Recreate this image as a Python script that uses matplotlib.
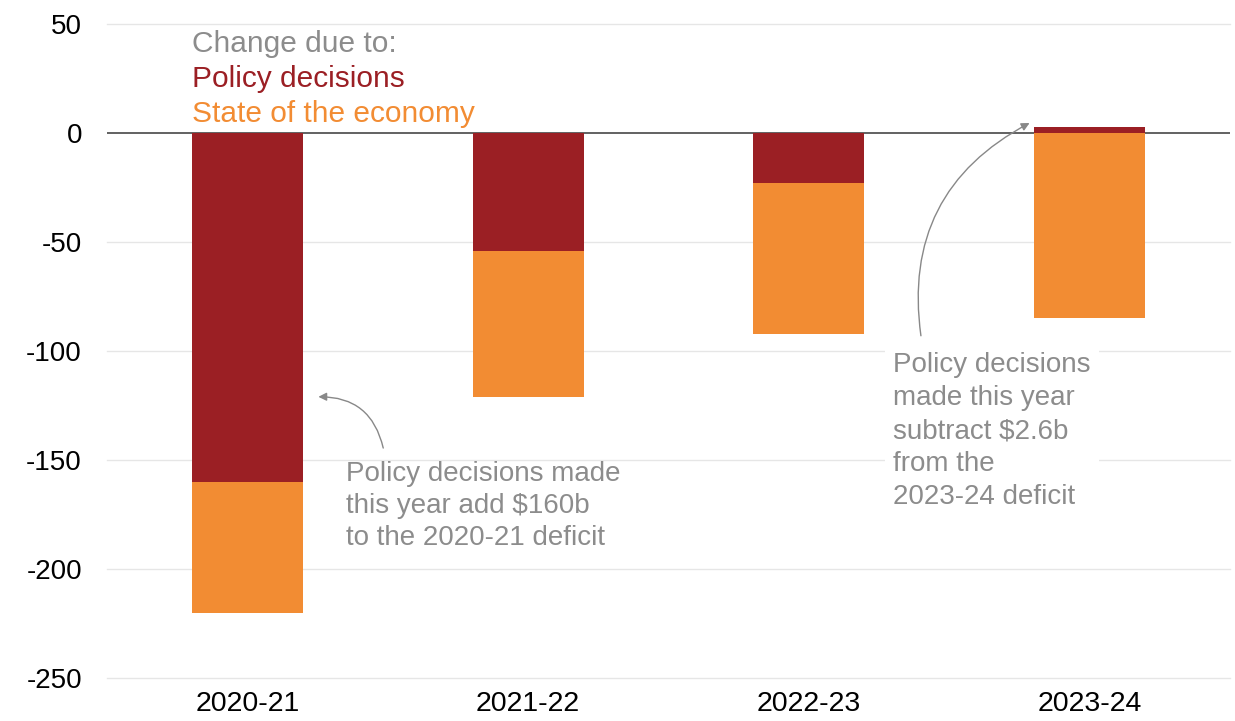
import numpy as np
import matplotlib.pyplot as plt

plt.rcParams['font.family'] = ['Liberation Sans', 'DejaVu Sans']
plt.rcParams['axes.unicode_minus'] = False

years = ['2020-21', '2021-22', '2022-23', '2023-24']
policy = [-160, -54, -23, 2.6]
economy = [-60, -67, -69, -85]
yticks = [-250, -200, -150, -100, -50, 0, 50]

red = '#9b1f24'
orange = '#f28c33'
grey = '#8c8c8c'

fig = plt.figure(figsize=(12.35, 7.21), dpi=100)
ax = fig.add_axes([0.0866, 0.0596, 0.9094, 0.9071])

x = np.arange(len(years))
w = 0.395
# economy part sits below the policy part (or below zero if policy is positive)
eco_bottom = [min(p, 0) for p in policy]
ax.bar(x, policy, w, color=red, zorder=3)
ax.bar(x, economy, w, bottom=eco_bottom, color=orange, zorder=3)

ax.set_xlim(-0.5, 3.5)
ax.set_ylim(-250, 50)
ax.set_yticks(yticks)
ax.set_xticks(x, years)
for yt in yticks:
    if yt != 0:
        ax.axhline(yt, color='#e6e6e6', lw=1, zorder=1, clip_on=False)
ax.axhline(0, color='#555555', lw=1.3, zorder=2)

for s in ax.spines.values():
    s.set_visible(False)
ax.tick_params(axis='y', length=0, pad=18, labelsize=20)
ax.tick_params(axis='x', length=0, pad=9, labelsize=20.5)

# legend as coloured text
ax.text(-0.196, 40.8, 'Change due to:', color=grey, fontsize=21.5, va='center', ha='left')
ax.text(-0.196, 24.8, 'Policy decisions', color=red, fontsize=21.5, va='center', ha='left')
ax.text(-0.196, 8.7, 'State of the economy', color=orange, fontsize=21.5, va='center', ha='left')

# annotations
ax.text(0.352, -150.5, 'Policy decisions made\nthis year add $160b\nto the 2020-21 deficit',
        color=grey, fontsize=20, va='top', ha='left', linespacing=1.3, zorder=4)
ax.annotate('', xy=(0.253, -121), xytext=(0.484, -144.5),
            arrowprops=dict(arrowstyle='-|>', color='#888888', lw=1,
                            mutation_scale=12, connectionstyle='arc3,rad=0.4',
                            shrinkA=0, shrinkB=0))

ax.text(2.299, -100.5, 'Policy decisions\nmade this year\nsubtract $2.6b\nfrom the\n2023-24 deficit',
        color=grey, fontsize=20, va='top', ha='left', linespacing=1.35, zorder=4,
        bbox=dict(facecolor='white', edgecolor='none', pad=6))
ax.annotate('', xy=(2.786, 4.6), xytext=(2.399, -93),
            arrowprops=dict(arrowstyle='-|>', color='#888888', lw=1,
                            mutation_scale=12, connectionstyle='arc3,rad=-0.35',
                            shrinkA=0, shrinkB=0))

fig.savefig('out.png', dpi=100)
